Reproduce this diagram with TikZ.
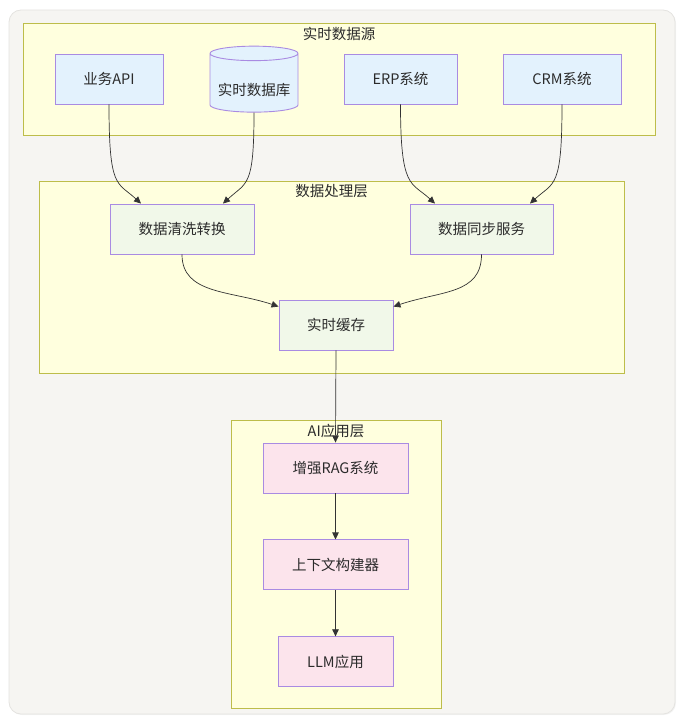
\documentclass[tikz,border=0pt]{standalone}
\usepackage{fontspec}
\setmainfont{Noto Sans CJK SC}
\usetikzlibrary{arrows.meta, positioning, shapes.geometric, calc, shadows}
\definecolor{cbg}{HTML}{F6F5F2}
\definecolor{cbgline}{HTML}{E4E3E0}
\definecolor{cgroup}{HTML}{FFFFDE}
\definecolor{cgline}{HTML}{BDBD4A}
\definecolor{cborder}{HTML}{A98BE2}
\definecolor{csrc}{HTML}{E3F2FD}
\definecolor{cproc}{HTML}{F1F8E9}
\definecolor{capp}{HTML}{FCE4EC}
\definecolor{cline}{HTML}{333333}
\definecolor{ctext}{HTML}{2B2B2B}

\begin{document}
\begin{tikzpicture}[
  x=1pt, y=-1pt,
  font=\fontsize{14.5}{17}\selectfont,
  >={Triangle[length=7pt, width=6.5pt]},
  group/.style={draw=cgline, fill=cgroup, line width=0.9pt, inner sep=0pt},
  gtitle/.style={anchor=north, inner sep=0pt, text=ctext},
  box/.style={draw=cborder, line width=0.9pt, minimum height=50pt,
              inner sep=0pt, text=ctext},
  srcbox/.style={box, fill=csrc},
  procbox/.style={box, fill=cproc},
  appbox/.style={box, fill=capp},
  arr/.style={->, draw=cline, line width=0.7pt},
  ]
\useasboundingbox (0,0) rectangle (683,725);
% panel behind everything
\node[draw=cbgline, fill=cbg, rounded corners=12pt, minimum width=666pt,
      minimum height=704pt, line width=0.8pt,
      drop shadow={shadow xshift=1pt, shadow yshift=-1pt, opacity=0.10}]
      (panel) at (342,362) {};

% groups
\node[group, minimum width=632pt, minimum height=112pt] (srcgrp) at (339,79) {};
\node[gtitle] at ([yshift=-4pt]srcgrp.north) {实时数据源};
\node[group, minimum width=585pt, minimum height=192pt] (procgrp) at (331.5,277) {};
\node[gtitle] at ([yshift=-4pt]procgrp.north) {数据处理层};
\node[group, minimum width=210pt, minimum height=288pt] (appgrp) at (336,564) {};
\node[gtitle] at ([yshift=-4pt]appgrp.north) {AI应用层};

% data sources
\node[srcbox, minimum width=108pt] (api) at (109,79) {业务API};
\node[cylinder, shape border rotate=90, aspect=0.2, draw=cborder,
      fill=csrc, line width=0.9pt, minimum width=88pt, minimum height=66pt,
      inner sep=0pt, text=ctext] (rtdb) at (254,83)
      {\raisebox{-12pt}[0pt][0pt]{实时数据库}};
\node[srcbox, minimum width=113pt] (erp) at (400.5,79) {ERP系统};
\node[srcbox, minimum width=118pt] (crm) at (562,79) {CRM系统};

% processing
\node[procbox, minimum width=144pt] (clean) at (182,229) {数据清洗转换};
\node[procbox, minimum width=143pt] (sync) at (481.5,229) {数据同步服务};
\node[procbox, minimum width=114pt] (cache) at (336,325) {实时缓存};

% application
\node[appbox, minimum width=145pt] (rag) at (335.5,468) {增强RAG系统};
\node[appbox, minimum width=145pt, below=46pt of rag] (ctx) {上下文构建器};
\node[appbox, minimum width=115pt, below=46pt of ctx] (llm) {LLM应用};

% connectors
\draw[arr] (api.south) .. controls +(0,85) and +(-24,-22) .. ([xshift=-41pt]clean.north);
\draw[arr] (rtdb.south) .. controls +(0,75) and +(24,-22) .. ([xshift=41pt]clean.north);
\draw[arr] (erp.south) .. controls +(0,85) and +(-24,-22) .. ([xshift=-46.5pt]sync.north);
\draw[arr] (crm.south) .. controls +(0,85) and +(24,-22) .. ([xshift=48.5pt]sync.north);
\draw[arr] (clean.south) .. controls +(0,40) and +(-48,-16) .. ([yshift=-7pt]cache.north west);
\draw[arr] (sync.south) .. controls +(0,40) and +(48,-16) .. ([yshift=-7pt]cache.north east);
\draw[arr] (cache.south) -- (rag.north);
\draw[arr] (rag) -- (ctx);
\draw[arr] (ctx) -- (llm);
\end{tikzpicture}
\end{document}
